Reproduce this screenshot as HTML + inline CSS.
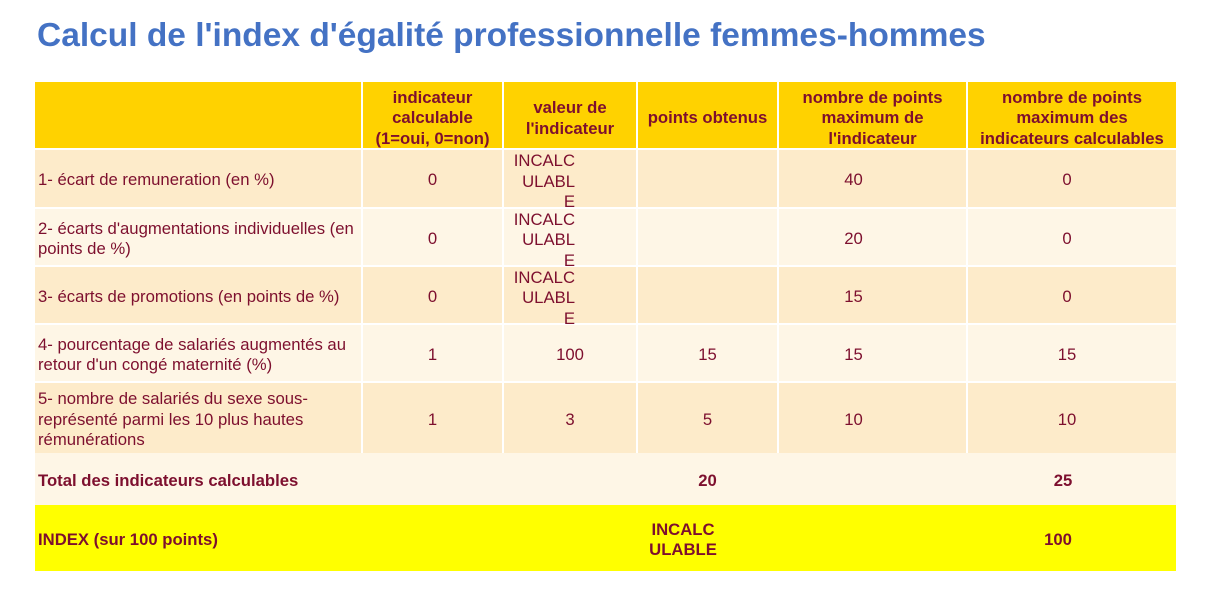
<!DOCTYPE html>
<html><head><meta charset="utf-8"><style>
body{margin:0;width:1206px;height:603px;background:#fff;font-family:"Liberation Sans",sans-serif;position:relative;overflow:hidden}
h1{position:absolute;left:37px;top:17px;margin:0;font-size:33.5px;color:#4472C4;font-weight:bold;white-space:nowrap}
.c{position:absolute;display:flex;align-items:center;justify-content:center;text-align:center;color:#7d0f2e;font-size:16.7px;line-height:20.5px;box-sizing:border-box;padding-top:4px}
.h{background:#FFD200;font-weight:bold;padding-top:7px}
.a{background:#FDEBCA}.b{background:#FEF6E6}
.l{justify-content:flex-start;text-align:left;padding-left:3px}
.y{background:#FFFF00;font-weight:bold}
.t{font-weight:bold}
.i{justify-content:flex-start;padding-left:3px;padding-top:7px}
.i div{width:68px;text-align:right}
</style></head><body>
<h1>Calcul de l'index d'égalité professionnelle femmes-hommes</h1>
<div class="c h" style="left:35px;top:82px;width:326px;height:66px"></div>
<div class="c h" style="left:363px;top:82px;width:139px;height:66px">indicateur<br>calculable<br>(1=oui, 0=non)</div>
<div class="c h" style="left:504px;top:82px;width:132px;height:66px">valeur de<br>l'indicateur</div>
<div class="c h" style="left:638px;top:82px;width:139px;height:66px">points obtenus</div>
<div class="c h" style="left:779px;top:82px;width:187px;height:66px">nombre de points<br>maximum de<br>l'indicateur</div>
<div class="c h" style="left:968px;top:82px;width:208px;height:66px">nombre de points<br>maximum des<br>indicateurs calculables</div>

<div class="c a l" style="left:35px;top:150px;width:326px;height:57px">1- écart de remuneration (en %)</div>
<div class="c a" style="left:363px;top:150px;width:139px;height:57px">0</div>
<div class="c a i" style="left:504px;top:150px;width:132px;height:57px"><div>INCALC<br>ULABL<br>E</div></div>
<div class="c a" style="left:638px;top:150px;width:139px;height:57px"></div>
<div class="c a" style="left:779px;top:150px;width:187px;height:57px;padding-right:38px">40</div>
<div class="c a" style="left:968px;top:150px;width:208px;height:57px;padding-right:10px">0</div>

<div class="c b l" style="left:35px;top:209px;width:326px;height:56px">2- écarts d'augmentations individuelles (en points de %)</div>
<div class="c b" style="left:363px;top:209px;width:139px;height:56px">0</div>
<div class="c b i" style="left:504px;top:209px;width:132px;height:56px"><div>INCALC<br>ULABL<br>E</div></div>
<div class="c b" style="left:638px;top:209px;width:139px;height:56px"></div>
<div class="c b" style="left:779px;top:209px;width:187px;height:56px;padding-right:38px">20</div>
<div class="c b" style="left:968px;top:209px;width:208px;height:56px;padding-right:10px">0</div>

<div class="c a l" style="left:35px;top:267px;width:326px;height:56px">3- écarts de promotions (en points de %)</div>
<div class="c a" style="left:363px;top:267px;width:139px;height:56px">0</div>
<div class="c a i" style="left:504px;top:267px;width:132px;height:56px"><div>INCALC<br>ULABL<br>E</div></div>
<div class="c a" style="left:638px;top:267px;width:139px;height:56px"></div>
<div class="c a" style="left:779px;top:267px;width:187px;height:56px;padding-right:38px">15</div>
<div class="c a" style="left:968px;top:267px;width:208px;height:56px;padding-right:10px">0</div>

<div class="c b l" style="left:35px;top:325px;width:326px;height:56px">4- pourcentage de salariés augmentés au retour d'un congé maternité (%)</div>
<div class="c b" style="left:363px;top:325px;width:139px;height:56px">1</div>
<div class="c b" style="left:504px;top:325px;width:132px;height:56px">100</div>
<div class="c b" style="left:638px;top:325px;width:139px;height:56px">15</div>
<div class="c b" style="left:779px;top:325px;width:187px;height:56px;padding-right:38px">15</div>
<div class="c b" style="left:968px;top:325px;width:208px;height:56px;padding-right:10px">15</div>

<div class="c a l" style="left:35px;top:383px;width:326px;height:70px">5- nombre de salariés du sexe sous-représenté parmi les 10 plus hautes rémunérations</div>
<div class="c a" style="left:363px;top:383px;width:139px;height:70px">1</div>
<div class="c a" style="left:504px;top:383px;width:132px;height:70px">3</div>
<div class="c a" style="left:638px;top:383px;width:139px;height:70px">5</div>
<div class="c a" style="left:779px;top:383px;width:187px;height:70px;padding-right:38px">10</div>
<div class="c a" style="left:968px;top:383px;width:208px;height:70px;padding-right:10px">10</div>

<div class="c b t l" style="left:35px;top:453px;width:1141px;height:52px">Total des indicateurs calculables</div>
<div class="c t" style="left:638px;top:453px;width:139px;height:52px">20</div>
<div class="c t" style="left:968px;top:453px;width:208px;height:52px;padding-right:18px">25</div>

<div class="c y l" style="left:35px;top:505px;width:1141px;height:66px">INDEX (sur 100 points)</div>
<div class="c t" style="left:638px;top:505px;width:90px;height:66px">INCALC<br>ULABLE</div>
<div class="c t" style="left:968px;top:505px;width:180px;height:66px">100</div>
</body></html>
